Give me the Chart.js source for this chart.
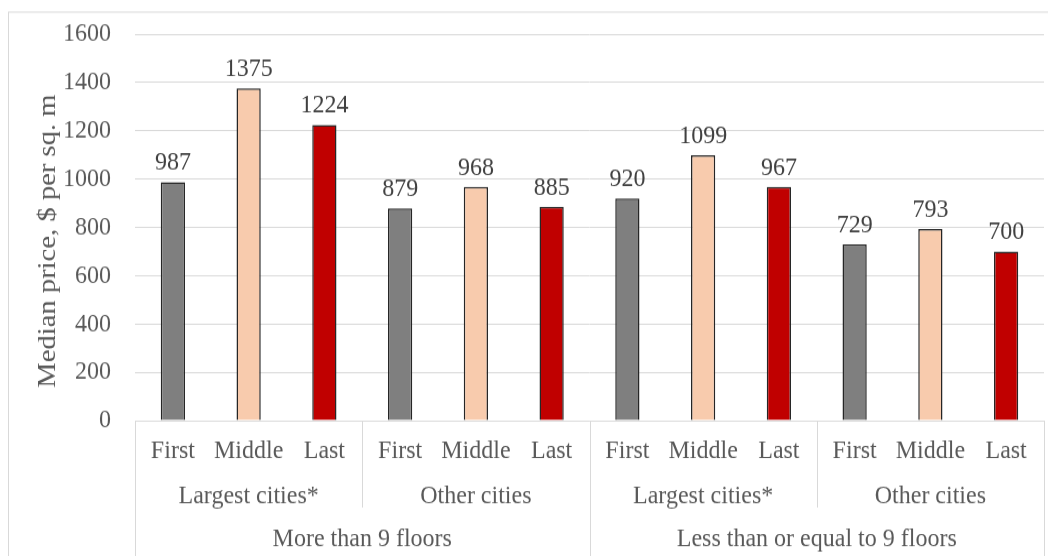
<!DOCTYPE html>
<html>
<head>
<meta charset="utf-8">
<script src="https://cdn.jsdelivr.net/npm/chart.js@4"></script>
<style>
    html, body { margin: 0; background: #fff; width: 1048px; height: 556px; overflow: hidden; }
    /* the reference is slightly stretched vertically, so draw at 505px and scale to 556px */
    #wrap { position: absolute; left: 0; top: 0; width: 1048px; height: 505px; transform: scaleY(1.101); transform-origin: 0 0; }
</style>
</head>
<body>
<div id="wrap"><canvas id="chart" width="1048" height="505"></canvas></div>
<script>
// Chart data
const floorLabels = ['First', 'Middle', 'Last', 'First', 'Middle', 'Last', 'First', 'Middle', 'Last', 'First', 'Middle', 'Last'];
const cityGroups = ['Largest cities*', 'Other cities', 'Largest cities*', 'Other cities'];
const heightGroups = ['More than 9 floors', 'Less than or equal to 9 floors'];
const prices = [987, 1375, 1224, 879, 968, 885, 920, 1099, 967, 729, 793, 700];
const floorColors = ['#7f7f7f', '#f8cbad', '#c00000'];
const yTicks = [0, 200, 400, 600, 800, 1000, 1200, 1400, 1600];
const yTitle = 'Median price, $ per sq. m';

const FONT = '"Liberation Serif", "Times New Roman", serif';
const TEXT = '#595959';
const LINE = '#d9d9d9';

/**
 * Draw value labels above each bar
 */
const valueLabels = {
    id: 'valueLabels',
    afterDatasetsDraw(chart) {
        const ctx = chart.ctx;
        const meta = chart.getDatasetMeta(0);
        ctx.save();
        ctx.font = '24px ' + FONT;
        ctx.fillStyle = '#404040';
        ctx.textAlign = 'center';
        ctx.textBaseline = 'alphabetic';
        meta.data.forEach((bar, i) => {
            ctx.fillText(String(prices[i]), bar.x, bar.y - 11);
        });
        ctx.restore();
    }
};

/**
 * Draw the frame, the y title and the two extra category rows with dividers
 */
const groupAxis = {
    id: 'groupAxis',
    afterDraw(chart) {
        const ctx = chart.ctx;
        const x = chart.scales.x;
        const area = chart.chartArea;
        const step = x.getPixelForValue(1) - x.getPixelForValue(0);
        const edge = i => x.getPixelForValue(i) - step / 2;
        const bottom = chart.height;

        ctx.save();
        ctx.strokeStyle = LINE;
        ctx.lineWidth = 1;

        // outer frame
        ctx.strokeRect(8.5, 11, 1100, 600);

        // axis line
        ctx.beginPath();
        ctx.moveTo(area.left, Math.round(area.bottom) + 0.5);
        ctx.lineTo(area.right, Math.round(area.bottom) + 0.5);
        ctx.stroke();

        // dividers
        for (let g = 0; g <= cityGroups.length; g++) {
            const px = Math.round(edge(g * 3)) + 0.5;
            const full = g % 2 === 0;
            ctx.beginPath();
            ctx.moveTo(px, area.bottom);
            ctx.lineTo(px, full ? bottom : area.bottom + 79);
            ctx.stroke();
        }

        ctx.font = '24px ' + FONT;
        ctx.fillStyle = TEXT;
        ctx.textAlign = 'center';
        ctx.textBaseline = 'alphabetic';
        cityGroups.forEach((name, g) => {
            const cx = (edge(g * 3) + edge(g * 3 + 3)) / 2;
            ctx.fillText(name, cx, area.bottom + 75);
        });
        heightGroups.forEach((name, g) => {
            const cx = (edge(g * 6) + edge(g * 6 + 6)) / 2;
            ctx.fillText(name, cx, area.bottom + 114);
        });

        // y axis title
        ctx.translate(48, 219);
        ctx.rotate(-Math.PI / 2);
        ctx.font = '26px ' + FONT;
        ctx.textBaseline = 'middle';
        ctx.fillText(yTitle, 0, 0);
        ctx.restore();
    }
};

new Chart(document.getElementById('chart'), {
    type: 'bar',
    data: {
        labels: floorLabels,
        datasets: [{
            data: prices,
            backgroundColor: prices.map((v, i) => floorColors[i % 3]),
            borderColor: '#262626',
            borderWidth: 1.5,
            categoryPercentage: 1,
            barPercentage: 0.32
        }]
    },
    options: {
        responsive: false,
        animation: false,
        layout: { padding: { top: 31, right: 4, left: 0, bottom: 0 } },
        plugins: {
            legend: { display: false },
            tooltip: { enabled: false }
        },
        scales: {
            x: {
                grid: { display: false, drawTicks: false },
                border: { display: false },
                ticks: {
                    font: { family: FONT, size: 24 },
                    color: TEXT,
                    padding: 13,
                    maxRotation: 0,
                    autoSkip: false
                },
                afterFit(scale) { scale.height = 123; }
            },
            y: {
                min: 0,
                max: 1600,
                afterBuildTicks(scale) { scale.ticks = yTicks.map(v => ({ value: v })); },
                grid: { color: LINE, drawTicks: false },
                border: { display: false },
                ticks: {
                    font: { family: FONT, size: 24 },
                    color: TEXT,
                    padding: 24,
                    callback: v => String(v)
                },
                afterFit(scale) {
                    scale.width = 135;
                    // keep the tick padding from pushing the plot top down
                    scale.paddingTop = 0;
                    scale.paddingBottom = 0;
                }
            }
        }
    },
    plugins: [valueLabels, groupAxis]
});
</script>
</body>
</html>
